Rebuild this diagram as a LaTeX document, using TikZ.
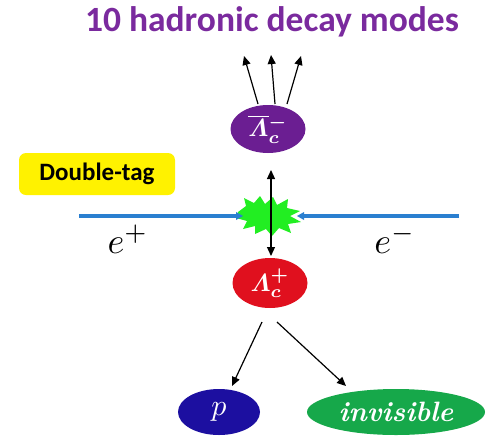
\documentclass[tikz,border=0pt]{standalone}
\usepackage{fontspec}
\usepackage{amsmath,bm}
\newfontfamily\carlito{Carlito}
\usetikzlibrary{arrows.meta,shapes.geometric}
\definecolor{tpurple}{HTML}{7A2A9E}
\definecolor{epurple}{HTML}{6B1E92}
\definecolor{ered}{HTML}{E0101E}
\definecolor{eblue}{HTML}{1C0FA0}
\definecolor{egreen}{HTML}{16A84A}
\definecolor{beam}{HTML}{2A7FD0}
\definecolor{burst}{HTML}{22EE22}
\definecolor{tagyellow}{HTML}{FFF200}
\tikzset{
  particle/.style={ellipse, inner sep=0pt, text=white},
  decay/.style={-{Triangle[length=9pt,width=8pt]}, line width=1.2pt, black},
  beamline/.style={line width=4pt, beam},
}
\newcommand{\bigmath}[2]{\scalebox{#1}{\fontsize{10}{12}\selectfont$#2$}}
\begin{document}
\begin{tikzpicture}[x=1pt,y=-1pt]
\useasboundingbox (0,0) rectangle (492,437);
\node[text=tpurple, font=\carlito\bfseries\fontsize{35.5}{38}\selectfont] (title) at (272,22) {10 hadronic decay modes};
\node[particle, fill=epurple, minimum width=75pt, minimum height=48pt] (lbar) at (268,129) {\bigmath{2.5}{\bm{\overline{\mathnormal{\Lambda}}}{}_{\bm{c}}^{\bm{-}}}};
\node[particle, fill=ered, minimum width=75pt, minimum height=50pt] (lam) at (270,283) {\bigmath{2.5}{\bm{\mathnormal{\Lambda}}_{\bm{c}}^{\bm{+}}}};
\node[particle, fill=eblue, minimum width=82pt, minimum height=46pt] (p) at (219,412) {\bigmath{3}{p}};
\node[particle, fill=egreen, minimum width=178pt, minimum height=46pt] (inv) at (396,412) {\fontsize{28}{30}\selectfont\bfseries\itshape invisible};
\node[fill=tagyellow, rounded corners=7pt, minimum width=156pt, minimum height=42pt, font=\carlito\bfseries\fontsize{25}{27}\selectfont] (tag) at (97,174) {Double-tag};
\node (ep) at (128,239) {\bigmath{3.6}{e^+}};
\node (em) at (395,239) {\bigmath{3.6}{e^-}};
% beam
\coordinate (bl) at (79,216);
\coordinate (br) at (459,216);
\coordinate (ble) at (240,216);
\coordinate (bre) at (300,216);
\draw[beamline] (bl) -- (ble);
\draw[beamline] (br) -- (bre);
% burst
\fill[burst] (238,212) -- (246,206) -- (244,198) -- (254,203) -- (260,196) -- (265,204) -- (273,197) -- (277,205) -- (288,199) -- (287,208) -- (300,211) -- (290,216) -- (301,222) -- (288,224) -- (291,233) -- (279,228) -- (272,236) -- (266,229) -- (255,234) -- (255,226) -- (243,229) -- (247,221) -- (236,218) -- cycle;
\fill[beam] (243,216) -- (236,212) -- (236,220) -- cycle;
\fill[beam] (297,216) -- (304,212) -- (304,220) -- cycle;
% vertical double arrow
\coordinate (vt) at (271,170);
\coordinate (vb) at (271,256);
\draw[{Triangle[length=9pt,width=8pt]}-{Triangle[length=9pt,width=8pt]}, line width=1.2pt] (vt) -- (vb);
% decay arrows up
\coordinate (s1) at (258,104);
\coordinate (s2) at (275,104);
\coordinate (s3) at (287,104);
\coordinate (t1) at (244,56);
\coordinate (t2) at (271,55);
\coordinate (t3) at (301,56);
\draw[decay] (s1) -- (t1);
\draw[decay] (s2) -- (t2);
\draw[decay] (s3) -- (t3);
% decay arrows down
\coordinate (d1) at (262,322);
\coordinate (d2) at (277,322);
\coordinate (pt) at (232,386);
\coordinate (it) at (346,386);
\draw[decay] (d1) -- (pt);
\draw[decay] (d2) -- (it);
\end{tikzpicture}
\end{document}
